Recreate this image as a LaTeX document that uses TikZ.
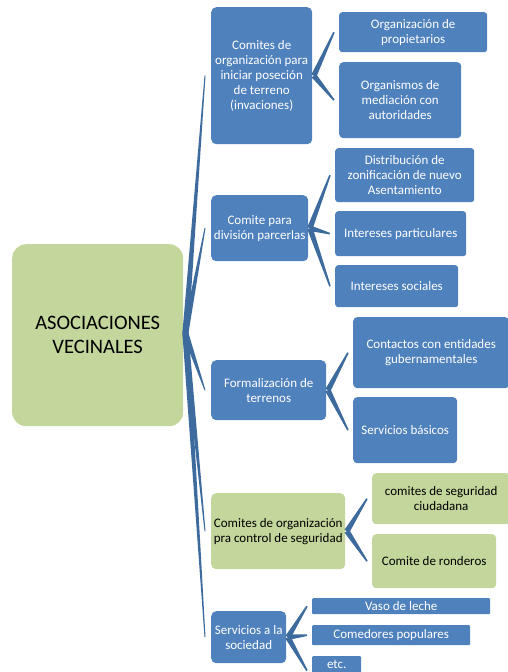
\documentclass[tikz,border=0pt]{standalone}
\usepackage{fontspec}
\setmainfont{Carlito}
\usetikzlibrary{calc}
\definecolor{boxblue}{HTML}{4F81BD}
\definecolor{connblue}{HTML}{3E6B9E}
\definecolor{boxgreen}{HTML}{C3D69B}
\tikzset{
  basebox/.style={anchor=north west, inner sep=0pt, align=center,
    font=\fontsize{13}{15}\selectfont},
  bbox/.style={basebox, fill=boxblue, text=white, rounded corners=#1},
  bbox/.default=4pt,
  gbox/.style={basebox, fill=boxgreen, text=black, rounded corners=#1},
  gbox/.default=4pt,
  conn/.style={fill=connblue}
}
\newcommand\wedgec[4]{%
  \fill[conn] ($(#1)!#3!90:(#2)$) -- ($(#2)!#4!-90:(#1)$) -- ($(#2)!#4!90:(#1)$) -- ($(#1)!#3!-90:(#2)$) -- cycle;}
\begin{document}
\begin{tikzpicture}[x=1pt,y=-1pt]
\useasboundingbox (0,0) rectangle (508,672);
% root
\node[gbox=14pt, minimum width=171pt, minimum height=182pt, font=\fontsize{20.5}{24}\selectfont] (root) at (12,244) {ASOCIACIONES\\VECINALES};
% level 1
\node[bbox=5pt, minimum width=101pt, minimum height=137pt] (a) at (211,7) {Comites de\\organización para\\iniciar poseción\\de terreno\\(invaciones)};
\node[bbox=5pt, minimum width=97pt, minimum height=66pt] (b) at (211,195) {Comite para\\división parcerlas};
\node[bbox=5pt, minimum width=115pt, minimum height=60pt] (c) at (211,360) {Formalización de\\terrenos};
\node[gbox=5pt, minimum width=134pt, minimum height=76pt] (d) at (211,493) {Comites de organización\\pra control de seguridad};
\node[bbox=5pt, minimum width=75pt, minimum height=52pt] (e) at (211,611) {Servicios a la\\sociedad};
% level 2
\node[bbox=3pt, minimum width=148pt, minimum height=40pt] (a1) at (339,12) {Organización de\\propietarios};
\node[bbox=4pt, minimum width=122pt, minimum height=76pt] (a2) at (339,62) {Organismos de\\mediación con\\autoridades};
\node[bbox=3pt, minimum width=139pt, minimum height=54pt] (b1) at (335,148) {Distribución de\\zonificación de nuevo\\Asentamiento};
\node[bbox=3pt, minimum width=131pt, minimum height=45pt] (b2) at (335,211) {Intereses particulares};
\node[bbox=3pt, minimum width=123pt, minimum height=42pt] (b3) at (335,265) {Intereses sociales};
\node[bbox=4pt, minimum width=156pt, minimum height=71pt] (c1) at (353,317) {Contactos con entidades\\gubernamentales};
\node[bbox=4pt, minimum width=104pt, minimum height=66pt] (c2) at (353,397) {Servicios básicos};
\node[gbox=4pt, minimum width=138pt, minimum height=51pt] (d1) at (372,473) {comites de seguridad\\ciudadana};
\node[gbox=4pt, minimum width=124pt, minimum height=54pt] (d2) at (372,534) {Comite de ronderos};
\node[bbox=1pt, minimum width=178pt, minimum height=16pt] (e1) at (312,598) {Vaso de leche};
\node[bbox=1pt, minimum width=158pt, minimum height=20pt] (e2) at (312,625) {Comedores populares};
\node[bbox=1pt, minimum width=49pt, minimum height=17pt] (e3) at (312,656) {etc.};
\fill[boxblue] (e3.south west) rectangle ($(e3.south east)+(0,10)$);
% connector anchors
\coordinate (r0) at ($(root.east)+(2,-2)$);
\foreach \n in {a,b,c,d,e}{\coordinate (\n0) at ($(\n.east)+(1.5,0)$);}
\foreach \n in {a,b,c,d,e}{\coordinate (\n in) at ($(\n.west)+(-6,0)$);}
\foreach \n in {a1,a2,b1,b2,b3,c1,c2,d1,d2,e1,e2}{\coordinate (\n in) at ($(\n.west)+(-5,0)$);}
\coordinate (e3in) at ($(e3.west)+(-5,6)$);
% root connectors
\foreach \n in {a,b,c,d,e}{\wedgec{r0}{\n in}{3pt}{0.5pt}}
% level 2 connectors
\wedgec{a0}{a1in}{2.8pt}{0.8pt}
\wedgec{a0}{a2in}{2.8pt}{0.8pt}
\wedgec{b0}{b1in}{2.8pt}{0.8pt}
\wedgec{b0}{b2in}{2.8pt}{0.8pt}
\wedgec{b0}{b3in}{2.8pt}{0.8pt}
\wedgec{c0}{c1in}{2.8pt}{0.8pt}
\wedgec{c0}{c2in}{2.8pt}{0.8pt}
\wedgec{d0}{d1in}{2.8pt}{0.8pt}
\wedgec{d0}{d2in}{2.8pt}{0.8pt}
\wedgec{e0}{e1in}{2.8pt}{0.8pt}
\wedgec{e0}{e2in}{2.8pt}{0.8pt}
\wedgec{e0}{e3in}{2.8pt}{0.8pt}
\end{tikzpicture}
\end{document}
